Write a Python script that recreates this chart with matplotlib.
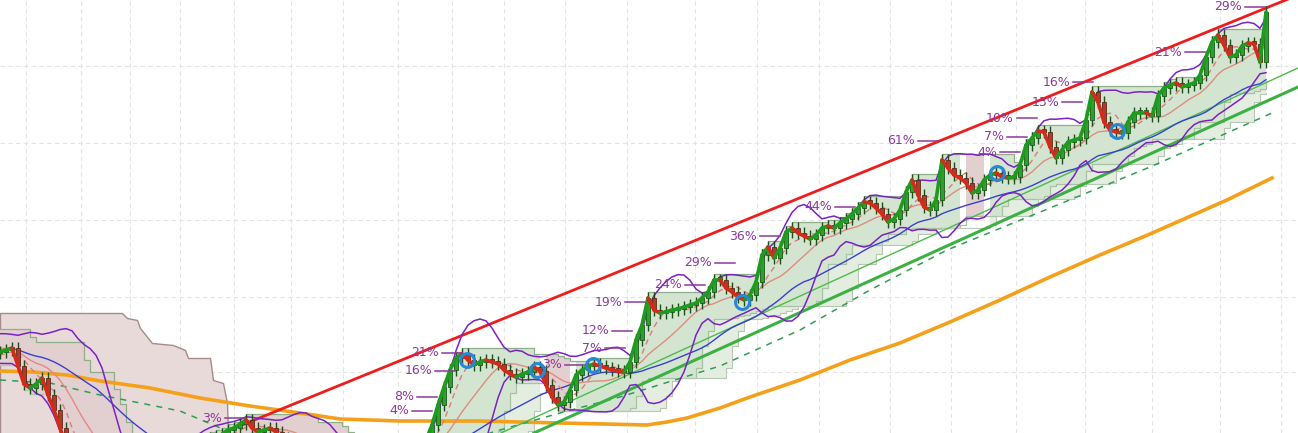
import numpy as np
import pandas as pd
import matplotlib
matplotlib.use("Agg")
import matplotlib.pyplot as plt
from matplotlib.collections import LineCollection

# 6-minute bars, time in minutes; the first ten bars lie before the visible window
t_start, bar_step = -60, 6
close = [
    84, 89, 94, 98, 90, 83, 78, 74, 78, 80,
    81, 83, 85, 67, 49, 45, 49, 55, 38, 23,
    5, -12, -27, -37, -45, -52, -57, -59, -62, -62,
    -60, -57, -55, -52, -49, -45, -42, -37, -32, -27,
    -22, -17, -13, -9, -7, -5, -3, -1, 3, 5,
    9, 13, 5, 1, 3, 5, 1, -5, -12, -17,
    -22, -25, -27, -29, -30, -30, -29, -29, -27, -27,
    -25, -25, -23, -22, -22, -20, -19, -17, -17, -15,
    -12, -7, 8, 28, 46, 63, 75, 79, 73, 68,
    71, 73, 71, 69, 63, 59, 56, 59, 61, 66,
    62, 48, 36, 28, 31, 43, 58, 63, 67, 69,
    67, 65, 63, 62, 61, 71, 93, 108, 135, 123,
    120, 121, 123, 124, 126, 128, 130, 135, 141, 153,
    153, 145, 141, 136, 133, 138, 151, 178, 186, 175,
    185, 201, 205, 200, 197, 194, 198, 205, 207, 205,
    210, 214, 219, 225, 231, 230, 225, 219, 211, 214,
    223, 241, 253, 238, 226, 223, 233, 273, 265, 258,
    255, 250, 240, 243, 253, 258, 260, 256, 255, 256,
    268, 288, 295, 302, 301, 286, 275, 283, 291, 293,
    295, 313, 341, 331, 311, 303, 301, 300, 311, 320,
    320, 320, 317, 337, 345, 348, 350, 346, 348, 350,
    358, 376, 391, 398, 388, 376, 378, 387, 390, 389,
    371, 421,
]

# long moving average (orange) and slower dashed average
orange_t = [0, 33, 67, 100, 150, 200, 250, 300, 340, 400, 480, 560, 647, 667, 687,
            720, 750, 800, 850, 900, 950, 1000, 1050, 1100, 1150, 1227, 1272]
orange_p = [62, 61, 58, 52, 45, 35, 27, 20, 14, 12, 12, 10, 8, 11, 15,
            25, 36, 53, 73, 90, 111, 133, 156, 178, 199, 233, 255]
dashed_t = [0, 50, 100, 150, 180, 230, 250, 470, 493, 560, 620, 720, 800, 870, 947, 1050, 1150, 1272]
dashed_p = [53, 50, 38, 28, 22, 1, -7, -7, 1, 20, 36, 67, 103, 143, 183, 225, 266, 320]

# trend lines (two anchor points each)
red_line_t, red_line_p = [225, 1298], [1, 438]
green_line_t, green_line_p = [534, 1298], [0, 346]
green_thin_t, green_thin_p = [501, 1298], [0, 365]

# bearish cloud on the left
bear_cloud_t = [0, 122, 127, 137, 140, 152, 173, 185, 188, 210, 213, 223, 227, 228]
bear_cloud_p = [120, 120, 115, 113, 105, 90, 88, 83, 75, 75, 53, 50, 30, 0]
bear_spans = [(-60, 430), (545, 575), (966, 984)]

# swing labels
label_text = ["3%", "4%", "8%", "16%", "21%", "3%", "7%", "12%", "19%", "24%", "29%",
              "36%", "44%", "61%", "4%", "7%", "10%", "13%", "16%", "21%", "29%"]
label_t = [245, 432, 437, 455, 462, 585, 625, 632, 645, 705, 735,
           780, 855, 938, 1020, 1027, 1037, 1082, 1093, 1205, 1265]
label_p = [15, 22, 36, 62, 80, 68, 85, 102, 131, 148, 170,
           197, 226, 292, 281, 296, 315, 331, 351, 381, 426]

# signal circles
signal_t = [467, 537, 593, 742, 997, 1117]
signal_p = [73, 63, 68, 131, 260, 302]

grid_t = [26, 81, 130, 180, 234, 291, 343, 398, 452, 504, 565, 627, 695, 757,
          819, 890, 951, 1016, 1085, 1152, 1220, 1281]
grid_p = [367, 290, 213, 136, 61]

c = pd.Series(close, dtype=float)
t = t_start + bar_step * np.arange(len(c))
o = c.shift(1).fillna(c.iloc[0])
body_hi = np.maximum(o, c)
body_lo = np.minimum(o, c)
high = body_hi + 6
low = body_lo - 6

sma_fast = c.rolling(5, min_periods=1).mean()
sma_mid = c.rolling(11, min_periods=1).mean()
sma_slow = c.rolling(27, min_periods=1).mean()
sd = c.rolling(11, min_periods=2).std()
bb_up = sma_mid + 2 * sd
bb_lo = sma_mid - 2 * sd
dc_hi = high.rolling(11, min_periods=1).max()
dc_lo = low.rolling(11, min_periods=1).min()
dc_lo_long = low.rolling(16, min_periods=1).min()

bear = np.zeros(len(t), dtype=bool)
for a, b in bear_spans:
    bear |= (t >= a) & (t <= b)

fig = plt.figure(figsize=(12.98, 4.33), dpi=100)
ax = fig.add_axes([0, 0, 1, 1])
ax.set_xlim(0, 1298)
ax.set_ylim(0, 433)
ax.set_xticks(grid_t)
ax.set_yticks(grid_p)
ax.tick_params(length=0, labelbottom=False, labelleft=False)
ax.grid(True, color="#e4e4e4", linestyle=(0, (4, 3)), linewidth=0.8)
ax.set_axisbelow(True)
for s in ax.spines.values():
    s.set_visible(False)

# clouds
ax.fill_between(bear_cloud_t, bear_cloud_p, -50, color="#e9dada", edgecolor="#a88a8a",
                linewidth=1, zorder=1)
ax.fill_between(t, dc_lo_long, dc_hi, where=~bear, step="post", color="#e3eee1",
                linewidth=0, zorder=1.5)
ax.fill_between(t, dc_lo, dc_hi, where=~bear, step="post", color="#d3e5d0",
                linewidth=0, zorder=2)
ax.fill_between(t, dc_lo, dc_hi, where=bear, step="post", color="#e2cfcf",
                linewidth=0, zorder=2)
ax.step(t, dc_hi, where="post", color="#8fae8a", lw=0.9, zorder=2.2)
ax.step(t, dc_lo, where="post", color="#a9c2a5", lw=0.9, zorder=2.2)
ax.step(t, dc_lo_long, where="post", color="#b7c9b4", lw=0.8, zorder=2.2)

# averages and trend lines
ax.plot(orange_t, orange_p, color="#f5a01a", lw=2.6, zorder=3)
ax.plot(dashed_t, dashed_p, color="#2f9e55", lw=1.1, ls=(0, (4, 4)), zorder=3.5)
ax.plot(green_thin_t, green_thin_p, color="#4cbb4c", lw=1.0, zorder=3.5)
ax.plot(green_line_t, green_line_p, color="#3cb043", lw=2.2, zorder=3.5)
ax.plot(red_line_t, red_line_p, color="#ee1c1c", lw=2.0, zorder=3.6)

ax.plot(t, sma_slow, color="#3a3fd0", lw=1.0, zorder=4)
ax.plot(t, sma_mid, color="#e28a82", lw=1.0, zorder=4)
ax.plot(t, sma_fast, color="#e07a7a", lw=1.0, ls=(0, (4, 3)), zorder=4)
ax.plot(t, bb_up, color="#7a22c4", lw=1.1, zorder=4)
ax.plot(t, bb_lo, color="#7a22c4", lw=1.1, zorder=4)

# candles
up = (c >= o).values
ax.vlines(t, low, high, color="#1d4f1d", lw=1.0, zorder=5)
body_h = np.maximum(body_hi - body_lo, 3.0)
ax.bar(t[up], body_h[up], bottom=body_lo[up], width=3.2,
       color="#2e9e2e", edgecolor="#1a5a1a", linewidth=0.6, zorder=5.5)
ax.bar(t[~up], body_h[~up], bottom=body_lo[~up], width=3.2,
       color="#b23a26", edgecolor="#5a2a1a", linewidth=0.6, zorder=5.5)

# price line coloured by direction
pts = np.column_stack([t, c.values])
segs = np.stack([pts[:-1], pts[1:]], axis=1)
cols = np.where(np.diff(c.values) >= 0, "#1e9a1e", "#d42a1a")
ax.add_collection(LineCollection(segs, colors=cols, linewidths=2.6, zorder=6,
                                 capstyle="round"))

ax.plot(signal_t, signal_p, "o", ms=10, mfc="none", mec="#2a86d8", mew=2.2, zorder=7)

for txt, x, p in zip(label_text, label_t, label_p):
    ax.plot([x - 20, x], [p, p], color="#8b3a9b", lw=1.1, zorder=8)
    ax.text(x - 23, p, txt, color="#8b3a9b", fontsize=9, ha="right", va="center",
            zorder=8)

fig.savefig("out.png", dpi=100)
plt.close(fig)
